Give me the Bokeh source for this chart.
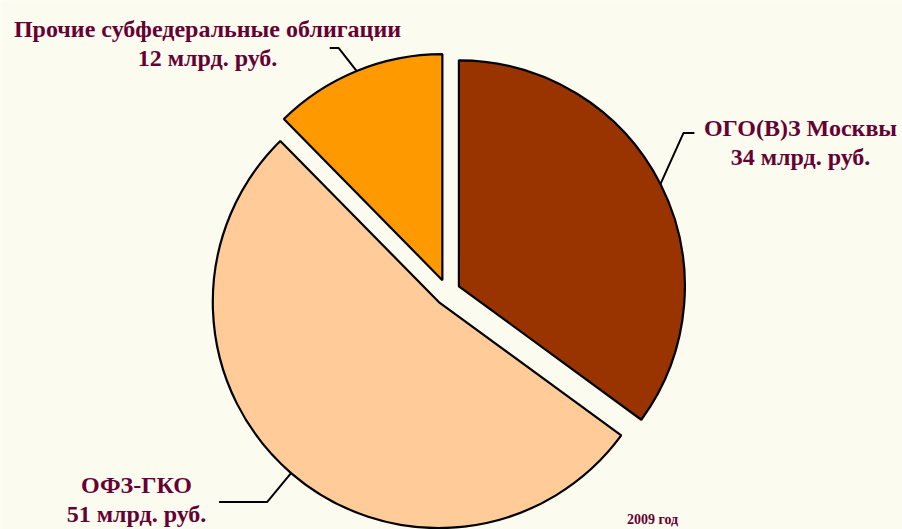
import numpy as np
from bokeh.plotting import figure
from bokeh.models import Range1d, ColumnDataSource
from bokeh.core.properties import value
from bokeh.embed import file_html
from bokeh.resources import INLINE

# ---- data ----
names = ["ОГО(В)З Москвы", "ОФЗ-ГКО", "Прочие субфедеральные облигации"]
values = [34, 51, 12]
unit_label = "млрд. руб."
year_label = "2009 год"
colors = ["#993300", "#FFCC99", "#FF9900"]

# ---- layout constants (pixels) ----
W, H = 902, 529
BG = "#FBFBEF"
TXT = "#660033"
CX, CY = 446.8, 237.3   # pie centre (data units = px)
R = 226
EXPLODE = 13
# leader line elbow offsets (dx, dy) from slice edge, and horizontal run
elbows = [(23, 51), (-24, -29), (-18, 23)]
runs = [11, -48, -9]
# label anchor (centre x, baseline y of first line) and line spacing
label_pos = [(800, 402), (136, 45), (207, 501)]
LINE = 29

vals = np.array(values, dtype=float)
fracs = vals / vals.sum()
ends_cum = np.cumsum(fracs)
starts_cum = ends_cum - fracs
start_ang = np.pi / 2 - starts_cum * 2 * np.pi
end_ang = np.pi / 2 - ends_cum * 2 * np.pi
mid = (start_ang + end_ang) / 2

xs = CX + EXPLODE * np.cos(mid)
ys = CY + EXPLODE * np.sin(mid)

src = ColumnDataSource(dict(x=xs, y=ys, s=start_ang, e=end_ang, c=colors))

p = figure(width=W, height=H, x_range=Range1d(0, W), y_range=Range1d(0, H),
           output_backend="svg", toolbar_location=None, min_border=0,
           background_fill_color=BG, border_fill_color=BG)
p.outline_line_color = None
p.axis.visible = False
p.grid.visible = False

p.wedge(x="x", y="y", radius=R, start_angle="s", end_angle="e", direction="clock",
        fill_color="c", line_color="black", line_width=2.2, source=src)

# leader lines
for i in range(len(values)):
    ex = xs[i] + R * np.cos(mid[i])
    ey = ys[i] + R * np.sin(mid[i])
    bx, by = ex + elbows[i][0], ey + elbows[i][1]
    p.line([ex, bx, bx + runs[i]], [ey, by, by], line_color="black", line_width=2)

# labels
for i in range(len(values)):
    lx, ly = label_pos[i]
    p.text(x=[lx, lx], y=[ly, ly - LINE],
           text=[names[i], f"{values[i]} {unit_label}"],
           text_align="center", text_baseline="alphabetic",
           text_font=value("Liberation Serif"), text_font_style="bold",
           text_font_size="24px", text_color=TXT)

p.text(x=[652], y=[10], text=[year_label], text_align="center",
       text_baseline="alphabetic", text_font=value("Liberation Serif"),
       text_font_style="bold", text_font_size="14px", text_color=TXT)

open("out.html", "w").write(file_html(p, INLINE))
